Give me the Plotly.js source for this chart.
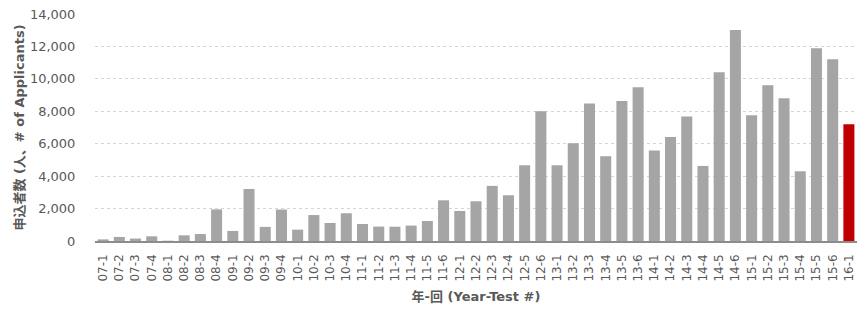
<!DOCTYPE html>
<html>
<head>
<meta charset="utf-8">
<script src="https://cdn.plot.ly/plotly-3.0.1.min.js"></script>
<style>html,body{margin:0;padding:0;background:#fff;}#chart{width:857px;height:311px;}</style>
</head>
<body>
<div id="chart"></div>
<script>
const categories = ["07-1","07-2","07-3","07-4","08-1","08-2","08-3","08-4","09-1","09-2","09-3","09-4",
  "10-1","10-2","10-3","10-4","11-1","11-2","11-3","11-4","11-5","11-6",
  "12-1","12-2","12-3","12-4","12-5","12-6","13-1","13-2","13-3","13-4","13-5","13-6",
  "14-1","14-2","14-3","14-4","14-5","14-6","15-1","15-2","15-3","15-4","15-5","15-6","16-1"];
const applicants = [100,250,150,290,20,350,430,1950,620,3210,870,1940,
  700,1600,1110,1710,1050,890,880,950,1235,2510,
  1850,2450,3400,2820,4670,8000,4670,6030,8480,5230,8640,9490,
  5580,6420,7680,4630,10410,13010,7760,9610,8810,4300,11890,11210,7200];
const highlightCategory = "16-1";
const yTickVals = [0,2000,4000,6000,8000,10000,12000,14000];

const colors = categories.map(c => c === highlightCategory ? "#c00000" : "#a5a5a5");
const fontFam = "DejaVu Sans, Noto Sans CJK JP, sans-serif";

Plotly.newPlot("chart", [{
  type: "bar",
  x: categories,
  y: applicants,
  marker: {color: colors},
  hoverinfo: "x+y"
}], {
  width: 857, height: 311,
  margin: {l: 95, r: 0, t: 14, b: 70},
  paper_bgcolor: "#fff", plot_bgcolor: "#fff",
  bargap: 0.32,
  font: {family: fontFam, color: "#595959"},
  showlegend: false,
  xaxis: {
    type: "category",
    tickangle: -90,
    tickfont: {size: 12, color: "#595959"},
    showline: true, linecolor: "#8c8c8c", linewidth: 1.5,
    ticks: "outside", ticklen: 7, tickcolor: "rgba(0,0,0,0)", showgrid: false,
    title: {text: "<b>年-回 (Year-Test #)</b>", font: {size: 13, color: "#595959"}, standoff: 11}
  },
  yaxis: {
    range: [0, 14000],
    tickvals: yTickVals,
    tickformat: ",d",
    tickfont: {size: 13, color: "#595959"},
    showgrid: true, gridcolor: "#d6d6d6", griddash: "dot", gridwidth: 1,
    zeroline: false, showline: false,
    ticks: "outside", ticklen: 16, tickcolor: "rgba(0,0,0,0)",
    title: {text: "<b>申込者数 (人、# of Applicants)</b>", font: {size: 13, color: "#595959"}, standoff: 2}
  }
}, {displayModeBar: false, staticPlot: true});
</script>
</body>
</html>
